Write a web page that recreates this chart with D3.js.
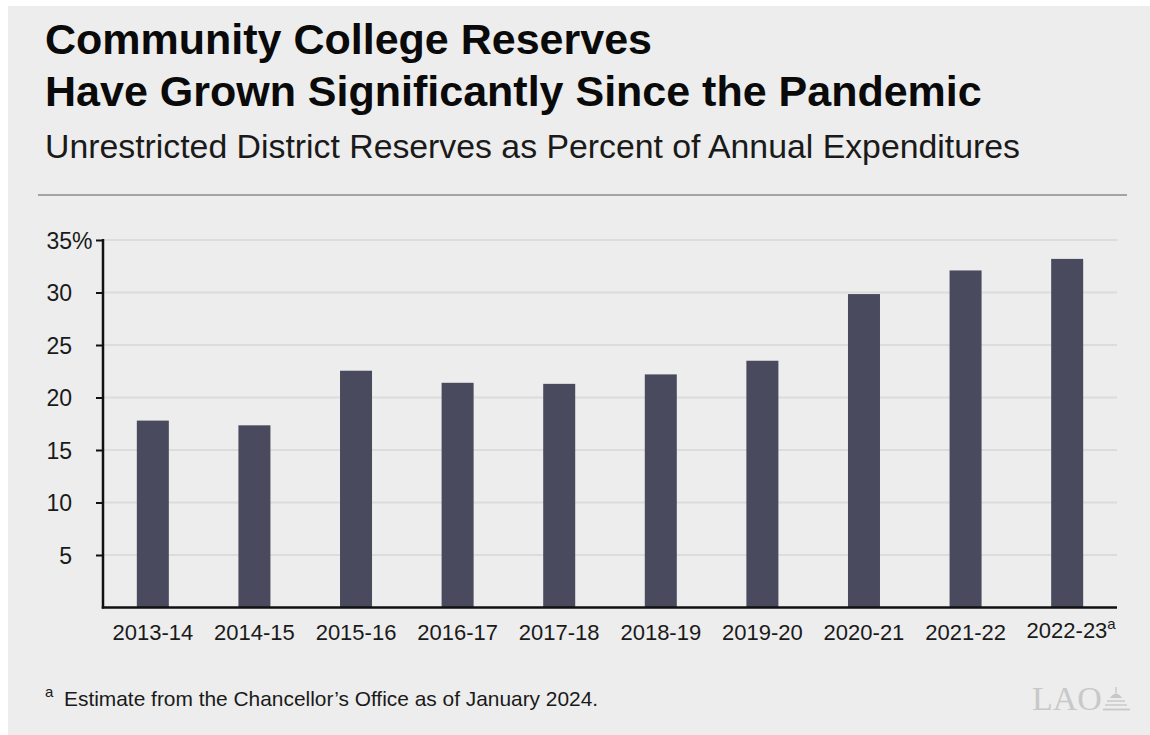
<!DOCTYPE html>
<html>
<head>
<meta charset="utf-8">
<script src="https://cdn.jsdelivr.net/npm/d3@7"></script>
<style>
  html, body { margin: 0; padding: 0; background: #ffffff; }
  svg { display: block; font-family: "Liberation Sans", Arial, Helvetica, sans-serif; }
</style>
</head>
<body>
<svg id="chart" width="1150" height="735"></svg>
<script>
const categories = ["2013-14","2014-15","2015-16","2016-17","2017-18","2018-19","2019-20","2020-21","2021-22","2022-23"];
const values = [17.8, 17.35, 22.55, 21.4, 21.3, 22.2, 23.5, 29.85, 32.1, 33.2];
const yTicks = [5, 10, 15, 20, 25, 30, 35];
const titleLines = ["Community College Reserves", "Have Grown Significantly Since the Pandemic"];
const subtitle = "Unrestricted District Reserves as Percent of Annual Expenditures";
const footnote = "Estimate from the Chancellor\u2019s Office as of January 2024.";
const footnoteMarker = "a";
const estimateCategory = "2022-23";

const SANS = "'Liberation Sans', Arial, Helvetica, sans-serif";
const SERIF = "'Liberation Serif', 'Times New Roman', serif";

const svg = d3.select("#chart");
const W = 1150, H = 735;

// card background
svg.append("rect").attr("x", 8).attr("y", 6).attr("width", W - 8).attr("height", H - 6).attr("fill", "#ECEDEC");

// titles
svg.selectAll("text.title").data(titleLines).join("text")
  .attr("class", "title")
  .attr("x", 45).attr("y", (d, i) => 54 + i * 52)
  .style("font-family", SANS)
  .attr("font-size", 43).attr("font-weight", "bold").attr("fill", "#0a0a0a")
  .text(d => d);

svg.append("text").attr("x", 45).attr("y", 158)
  .style("font-family", SANS)
  .attr("font-size", 33.8).attr("fill", "#1a1a1a")
  .text(subtitle);

svg.append("line").attr("x1", 38).attr("x2", 1127).attr("y1", 195).attr("y2", 195)
  .attr("stroke", "#8a8a8a").attr("stroke-width", 1.5);

// scales
const x = d3.scaleBand().domain(categories).range([103, 1117]).paddingInner(0.685).paddingOuter(0.333);
const y = d3.scaleLinear().domain([0, 35]).range([607.5, 240]);

// gridlines
svg.append("g").selectAll("line").data(yTicks).join("line")
  .attr("x1", 103).attr("x2", 1117)
  .attr("y1", d => y(d)).attr("y2", d => y(d))
  .attr("stroke", "#DCDCDC").attr("stroke-width", 2);

// bars
svg.append("g").selectAll("rect").data(categories).join("rect")
  .attr("x", d => x(d))
  .attr("width", x.bandwidth())
  .attr("y", (d, i) => y(values[i]))
  .attr("height", (d, i) => y(0) - y(values[i]))
  .attr("fill", "#4A4A5E");

// y axis
const yAxis = svg.append("g").attr("transform", "translate(103,0)")
  .call(d3.axisLeft(y).tickValues(yTicks).tickSize(7).tickPadding(0).tickFormat(d => d));
yAxis.select(".domain").remove();
yAxis.selectAll(".tick line").attr("stroke", "#111").attr("stroke-width", 2);
yAxis.selectAll(".tick text")
  .attr("x", -31).attr("dy", "0.36em")
  .attr("font-size", 23).attr("fill", "#1a1a1a")
  .style("font-family", SANS)
  .each(function(d) {
    if (d === 35) {
      d3.select(this.parentNode).append("text")
        .attr("x", -31).attr("dy", "0.36em").attr("text-anchor", "start")
        .attr("font-size", 23).attr("fill", "#1a1a1a")
        .style("font-family", SANS)
        .text("%");
    }
  });

// y axis line
svg.append("line").attr("x1", 103).attr("x2", 103).attr("y1", 239).attr("y2", 608.5)
  .attr("stroke", "#111").attr("stroke-width", 2.5);

// x axis
const xAxis = svg.append("g").attr("transform", `translate(0,${y(0)})`)
  .call(d3.axisBottom(x).tickSize(0).tickPadding(0));
xAxis.select(".domain").remove();
xAxis.selectAll(".tick text")
  .attr("y", 32).attr("dy", 0)
  .attr("font-size", 22).attr("fill", "#1a1a1a")
  .style("font-family", SANS);
xAxis.selectAll(".tick").filter(d => d === estimateCategory).select("text")
  .attr("y", 30).attr("x", 4)
  .append("tspan").attr("dy", -9).attr("font-size", 15).text(footnoteMarker);

svg.append("line").attr("x1", 101.75).attr("x2", 1117).attr("y1", y(0)).attr("y2", y(0))
  .attr("stroke", "#111").attr("stroke-width", 2.5);

// footnote
svg.append("text").attr("x", 45).attr("y", 697).attr("font-size", 15).attr("fill", "#1a1a1a")
  .style("font-family", SANS).text(footnoteMarker);
svg.append("text").attr("x", 64).attr("y", 706).attr("font-size", 20.9).attr("fill", "#1a1a1a")
  .style("font-family", SANS).text(footnote);

// LAO logo
const logo = svg.append("g").attr("fill", "#C8C8C8").attr("stroke", "#C8C8C8");
logo.append("text").attr("x", 1032).attr("y", 710)
  .style("font-family", SERIF)
  .attr("font-size", 34).attr("stroke", "none").text("LAO");
logo.append("line").attr("x1", 1116).attr("x2", 1116).attr("y1", 687).attr("y2", 693).attr("stroke-width", 1.5);
logo.append("path").attr("d", "M1110,698 Q1116,689 1122,698 Z").attr("stroke", "none");
logo.append("line").attr("x1", 1107).attr("x2", 1125).attr("y1", 701).attr("y2", 701).attr("stroke-width", 1.5);
logo.append("line").attr("x1", 1105).attr("x2", 1127).attr("y1", 705).attr("y2", 705).attr("stroke-width", 1.5);
logo.append("line").attr("x1", 1103).attr("x2", 1130).attr("y1", 709.5).attr("y2", 709.5).attr("stroke-width", 1.8);
</script>
</body>
</html>
